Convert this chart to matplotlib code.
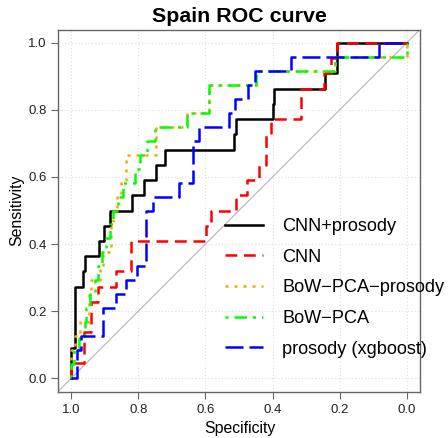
import matplotlib
matplotlib.use("Agg")
import matplotlib.pyplot as plt
import numpy as np

plt.rcParams['font.family'] = ['Liberation Sans', 'DejaVu Sans']

# ---- data ----
labels = ["CNN+prosody", "CNN", "BoW\u2212PCA\u2212prosody", "BoW\u2212PCA", "prosody (xgboost)"]
colors = ["#000000", "#ff0000", "#ffa500", "#00ff00", "#0000ff"]

# specificity at which sensitivity rises, and the number of true positives reached there
cnnp_n = 22
cnnp_spec = [1.0, 0.989, 0.966, 0.958, 0.918, 0.904, 0.884, 0.820, 0.783, 0.747, 0.720,
             0.516, 0.510, 0.399, 0.395, 0.243, 0.208]
cnnp_tp = [2, 6, 7, 8, 9, 10, 11, 12, 13, 14, 15, 16, 17, 18, 19, 20, 22]

cnn_n = 22
cnn_spec = [1.0, 0.961, 0.941, 0.922, 0.866, 0.821, 0.598, 0.585, 0.510, 0.475, 0.440,
            0.420, 0.405, 0.316, 0.245, 0.225, 0.208]
cnn_tp = [1, 3, 5, 6, 7, 9, 10, 11, 12, 13, 14, 16, 17, 19, 20, 21, 22]

bowp_n = 24
bowp_spec = [1.0, 0.990, 0.975, 0.948, 0.941, 0.916, 0.905, 0.882, 0.875, 0.865, 0.851,
             0.837, 0.747, 0.656, 0.590, 0.450, 0.215, 0.0]
bowp_tp = [2, 3, 4, 6, 7, 8, 9, 11, 12, 13, 14, 16, 18, 19, 21, 22, 23, 24]

bow_n = 24
bow_spec = [1.0, 0.992, 0.978, 0.960, 0.955, 0.945, 0.931, 0.920, 0.908, 0.898, 0.885,
            0.875, 0.860, 0.845, 0.810, 0.795, 0.775, 0.750, 0.655, 0.590, 0.450, 0.215, 0.0]
bow_tp = [1, 2, 3, 4, 5, 6, 7, 8, 9, 10, 11, 12, 13, 14, 15, 16, 17, 18, 19, 21, 22, 23, 24]

pros_n = 24
pros_spec = [0.983, 0.971, 0.906, 0.867, 0.837, 0.805, 0.776, 0.758, 0.678, 0.636, 0.620,
             0.530, 0.513, 0.472, 0.452, 0.344, 0.081]
pros_tp = [2, 3, 5, 6, 7, 8, 12, 13, 14, 17, 18, 19, 20, 21, 22, 23, 24]

ticks = [0.0, 0.2, 0.4, 0.6, 0.8, 1.0]
tick_labels = ["0.0", "0.2", "0.4", "0.6", "0.8", "1.0"]

curves = [(cnnp_spec, cnnp_tp, cnnp_n), (cnn_spec, cnn_tp, cnn_n),
          (bowp_spec, bowp_tp, bowp_n), (bow_spec, bow_tp, bow_n),
          (pros_spec, pros_tp, pros_n)]
styles = ["-", (0, (4.7, 2.7)), (0, (1.2, 2.4)), (0, (1.2, 2.4, 5.0, 2.4)), (0, (7.2, 2.4))]

W, H = 448, 438
fig = plt.figure(figsize=(W / 100, H / 100), dpi=100)
ax = fig.add_axes([58 / W, (H - 391.5) / H, 362 / W, 362 / H])

ax.set_xlim(1.04, -0.04)
ax.set_ylim(-0.04, 1.04)

# grid and diagonal
for t in ticks:
    ax.axvline(t, color="#dddddd", lw=0.8, ls=(0, (1, 2)), zorder=0)
    ax.axhline(t, color="#dddddd", lw=0.8, ls=(0, (1, 2)), zorder=0)
ax.axline((1.0, 0.0), (0.0, 1.0), color="#bbbbbb", lw=0.9, zorder=1)

handles = []
for (spec, tp, n), col, ls, lab in zip(curves, colors, styles, labels):
    x = [1.0] + list(spec) + [0.0]
    y = [0.0] + [t / n for t in tp] + [1.0]
    h, = ax.plot(x, y, drawstyle="steps-post", color=col, lw=1.8, ls=ls, label=lab, zorder=3)
    handles.append(h)

for s in ax.spines.values():
    s.set_color("#666666")
    s.set_linewidth(1.0)

ax.set_xticks(ticks)
ax.set_xticklabels(tick_labels)
ax.set_yticks(ticks)
ax.set_yticklabels(tick_labels)
ax.tick_params(axis="both", length=4.8, width=0.8, color="#666666", labelsize=9.5,
               labelcolor="#222222")
ax.tick_params(axis="x", pad=4.0)
ax.tick_params(axis="y", pad=3.2)

fig.text(239 / W, 1 - 22 / H, "Spain ROC curve", ha="center", va="baseline",
         fontsize=15.4, fontweight="bold")
fig.text(239.5 / W, 1 - 432.5 / H, "Specificity", ha="center", va="baseline", fontsize=11.4)
fig.text(17 / W, 1 - 210.5 / H, "Sensitivity", ha="center", va="center", rotation=90,
         fontsize=11.4)

leg = ax.legend(handles=handles, loc="upper left",
                bbox_to_anchor=(225 / W, 1 - 218 / H), bbox_transform=fig.transFigure,
                frameon=False, fontsize=13.1, handlelength=2.1, handletextpad=1.05,
                labelspacing=0.75, borderpad=0, borderaxespad=0)

fig.savefig("out.png", dpi=100)
